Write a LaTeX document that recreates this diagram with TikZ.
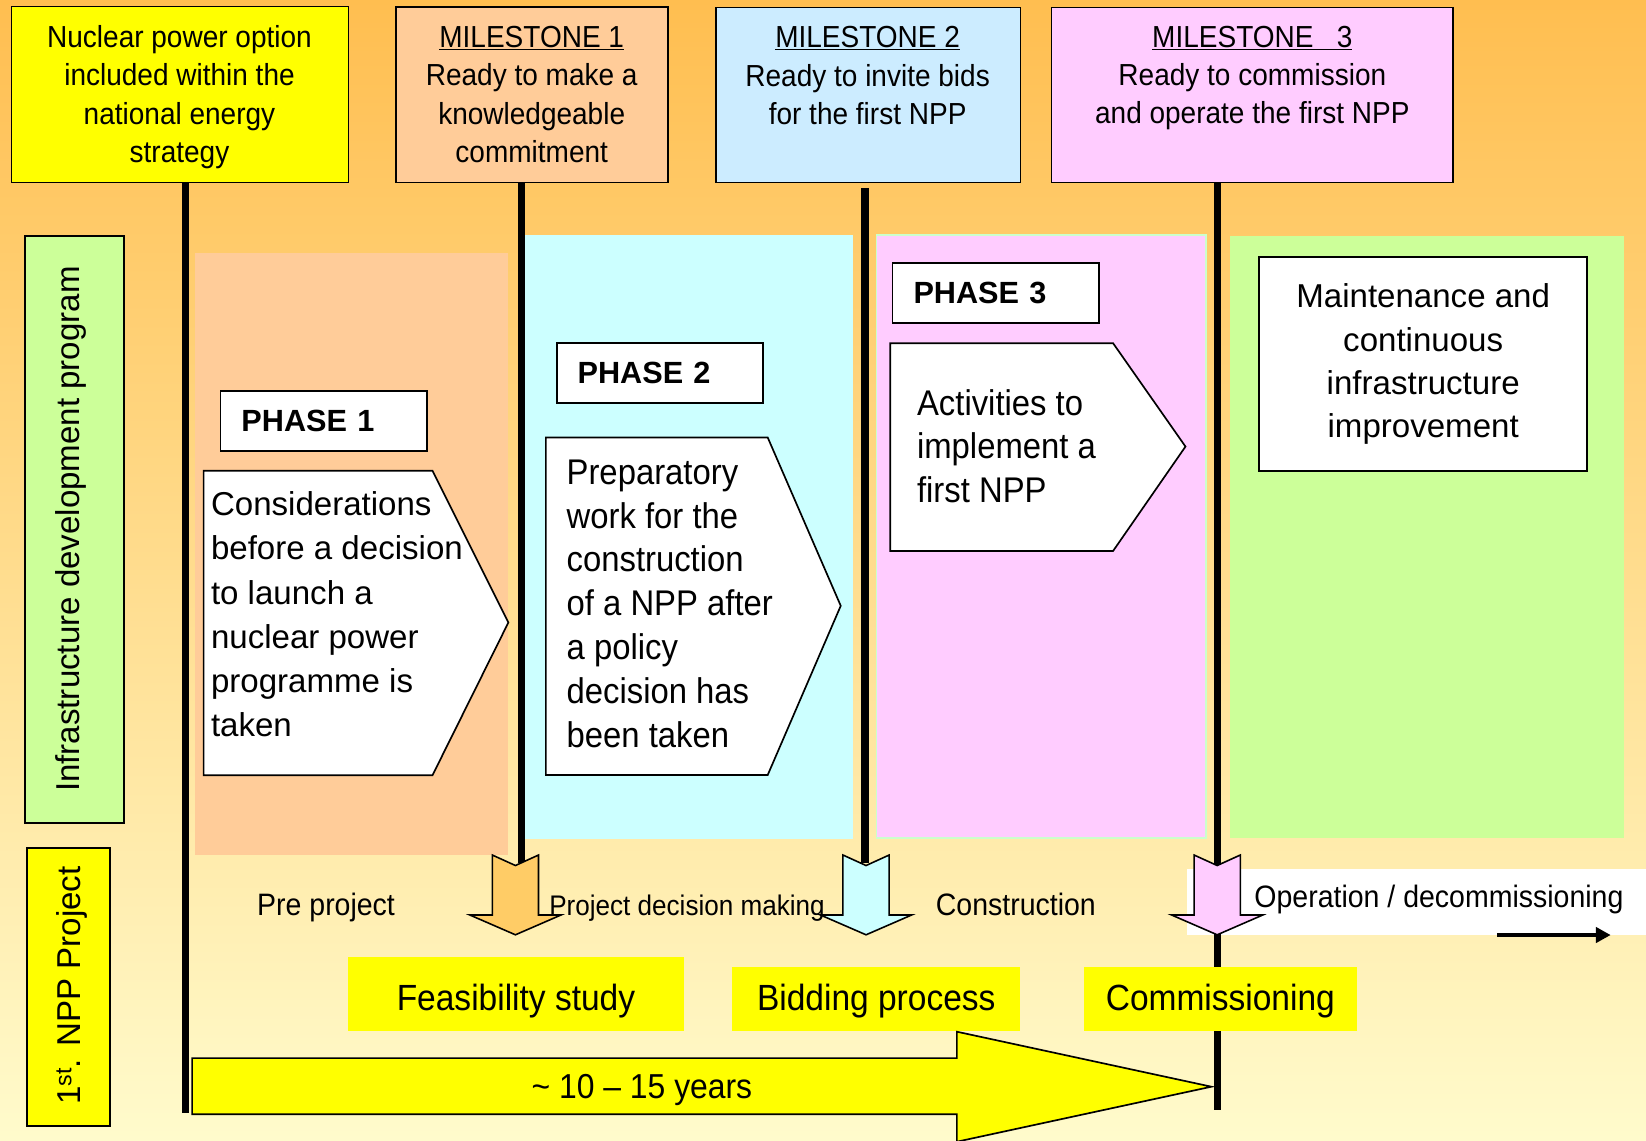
\documentclass[tikz,border=0pt]{standalone}
\usepackage{fontspec}
\setmainfont{Liberation Sans}
\newfontfamily\nar[FakeStretch=0.92]{Liberation Sans}
\usetikzlibrary{arrows.meta}
\definecolor{bgtop}{RGB}{255,190,80}
\definecolor{bgmid}{RGB}{255,226,148}
\definecolor{bgbot}{RGB}{255,251,204}
\definecolor{hyellow}{RGB}{255,255,0}
\definecolor{peach}{RGB}{255,204,153}
\definecolor{hblue}{RGB}{204,236,255}
\definecolor{pinkc}{RGB}{255,204,255}
\definecolor{cyanc}{RGB}{204,255,255}
\definecolor{greenc}{RGB}{204,255,153}
\definecolor{arrorange}{RGB}{255,204,102}
\definecolor{pinkedge}{RGB}{204,255,204}
\newcommand{\DownBlock}[2]{%
  \path[blockarrow, fill=#2] ({#1-22},814.5) -- (#1,824.5) -- ({#1+22},814.5) -- ({#1+22},871.6) -- ({#1+43.5},871.6) -- (#1,890.5) -- ({#1-43.5},871.6) -- ({#1-22},871.6) -- cycle;}
\begin{document}
\begin{tikzpicture}[x=1pt,y=-1pt,
  every node/.style={inner sep=0pt, outer sep=0pt},
  hdrbox/.style={draw=black, line width=1.6pt, rectangle},
  hdrtext/.style={font=\nar\fontsize{29}{36.5}\selectfont, align=center},
  sidebox/.style={draw=black, line width=1.8pt, rectangle},
  sidetext/.style={font=\fontsize{31.5}{36}\selectfont, rotate=90, anchor=base},
  milestoneline/.style={line width=7pt, black},
  phaselabel/.style={draw=black, line width=1.8pt, fill=white, font=\bfseries\fontsize{29.2}{34}\selectfont, text width=157pt, align=left, inner xsep=20pt, minimum height=57pt},
  pentagon/.style={draw=black, line width=1.6pt, fill=white, line join=miter},
  bodyreg/.style={font=\fontsize{31.5}{42.04}\selectfont, align=left, anchor=west},
  bodynar/.style={font=\nar\fontsize{34}{41.8}\selectfont, align=left, anchor=west},
  blockarrow/.style={draw=black, line width=1.5pt, line join=miter},
  stagetext/.style={font=\nar\fontsize{29.5}{34}\selectfont, anchor=base west},
  ylabel/.style={fill=hyellow, font=\nar\fontsize{34.7}{40}\selectfont, anchor=base},
  bigarrow/.style={fill=hyellow, draw=black, line width=1.6pt, line join=miter},
]
\useasboundingbox (0,0) rectangle (1568,1086);
\shade[top color=bgtop, middle color=bgmid, bottom color=bgbot] (0,0) rectangle (1568,1086);

% lanes
\fill[peach] (186,240.6) rectangle (484,814.5);
\fill[cyanc] (500,224) rectangle (813,799);
\filldraw[fill=pinkc, draw=pinkedge, line width=1.5pt] (835,224) rectangle (1149,798.5);
\fill[greenc] (1172,225) rectangle (1547,798.5);
\fill[white] (1131,828) rectangle (1568,891);

% header boxes
\node[hdrbox, fill=hyellow, minimum width=321pt, minimum height=167.4pt] (h0) at (171.5,90) {};
\node[hdrbox, fill=peach, minimum width=259.5pt, minimum height=167pt] (h1) at (506.75,90.3) {};
\node[hdrbox, fill=hblue, minimum width=290.5pt, minimum height=167pt] (h2) at (827,90.5) {};
\node[hdrbox, fill=pinkc, minimum width=382.7pt, minimum height=167pt] (h3) at (1193,90.5) {};
\node[hdrtext] (t0) at (171,92.5) {Nuclear power option\\included within the\\national energy\\strategy};
\node[hdrtext] (t1) at (506.5,90) {\underline{MILESTONE 1}\\Ready to make a\\knowledgeable\\commitment};
\node[hdrtext] (t2) at (826.5,72) {\underline{MILESTONE 2}\\Ready to invite bids\\for the first NPP};
\node[hdrtext] (t3) at (1193,74.5) {\underline{MILESTONE~~~3}\\Ready to commission\\and operate the first NPP};

% side labels
\node[sidebox, fill=greenc, minimum width=94.2pt, minimum height=559pt] (infbox) at (71,504.3) {};
\node[sidetext] (inftext) at (76,504) {Infrastructure development program};
\node[sidebox, fill=hyellow, minimum width=79.4pt, minimum height=265.4pt] (nppbox) at (65.1,940.3) {};
\node[sidetext] (npptext) at (77,939) {1\textsuperscript{st}. NPP Project};

% milestone lines
\coordinate (l0b) at (177,1060);
\coordinate (l1b) at (497,822);
\coordinate (l2b) at (824,822);
\coordinate (l3b) at (1159.6,1057);
\draw[milestoneline] (h0.south -| l0b) -- (l0b);
\draw[milestoneline] (h1.south -| l1b) -- (l1b);
\draw[milestoneline] (824,179) -- (l2b);
\draw[milestoneline] (h3.south -| l3b) -- (l3b);

% phase labels
\node[phaselabel] (p1) at (308.5,401) {PHASE 1};
\node[phaselabel] (p2) at (628.75,355.5) {PHASE 2};
\node[phaselabel] (p3) at (948.7,279.2) {PHASE 3};

% phase pentagons
\path[pentagon] (194,448.5) -- (412,448.5) -- (484.3,593) -- (412,738.5) -- (194,738.5) -- cycle;
\path[pentagon] (520,416.7) -- (731.3,416.7) -- (800.9,577.1) -- (731.3,738.3) -- (520,738.3) -- cycle;
\path[pentagon] (848.1,326.9) -- (1060.3,326.9) -- (1129.3,425.4) -- (1060.3,524.9) -- (848.1,524.9) -- cycle;
\node[bodyreg] (ph1) at (201,585.2) {Considerations\\before a decision\\to launch a\\nuclear power\\programme is\\taken};
\node[bodynar] (ph2) at (539.8,575.1) {Preparatory\\work for the\\construction\\of a NPP after\\a policy\\decision has\\been taken};
\node[bodynar] (ph3) at (873.6,425) {Activities to\\implement a\\first NPP};

\node[draw=black, line width=1.8pt, fill=white, minimum width=312.5pt, minimum height=204pt, align=center, font=\fontsize{31.5}{41.3}\selectfont] (maint) at (1355.75,347) {Maintenance and\\continuous\\infrastructure\\improvement};

% block arrows
\DownBlock{491}{arrorange}
\DownBlock{825}{cyanc}
\DownBlock{1159.5}{pinkc}

% stage labels
\node[stagetext] (pre) at (245,871.7) {Pre project};
\node[stagetext, font=\nar\fontsize{27}{32}\selectfont] (pdm) at (523.3,871.7) {Project decision making};
\node[stagetext] (con) at (891.5,871.7) {Construction};
\node[stagetext] (ope) at (1195,864.4) {Operation / decommissioning};
\coordinate (opa) at (1426,890.7);
\coordinate (opb) at (1534.3,890.7);
\draw[line width=3.2pt, -{Triangle[length=14pt,width=14.5pt]}] (opa) -- (opb);

% yellow stage boxes
\node[ylabel, minimum width=320pt, text height=50.5pt, text depth=19.5pt] (feas) at (491.5,962.5) {Feasibility study};
\node[ylabel, minimum width=274.5pt, text height=41pt, text depth=19.5pt] (bid) at (834.75,962.5) {Bidding process};
\node[ylabel, minimum width=260pt, text height=41pt, text depth=19.5pt] (comm) at (1162.5,962.5) {Commissioning};

% big arrow
\path[bigarrow] (183,1008) -- (911.5,1008) -- (911.5,982.8) -- (1154,1035.2) -- (911.5,1087.6) -- (911.5,1061.5) -- (183,1061.5) -- cycle;
\node[font=\nar\fontsize{33}{38}\selectfont, anchor=base] (years) at (611.5,1046.3) {\textasciitilde\ 10 – 15 years};
\end{tikzpicture}
\end{document}
